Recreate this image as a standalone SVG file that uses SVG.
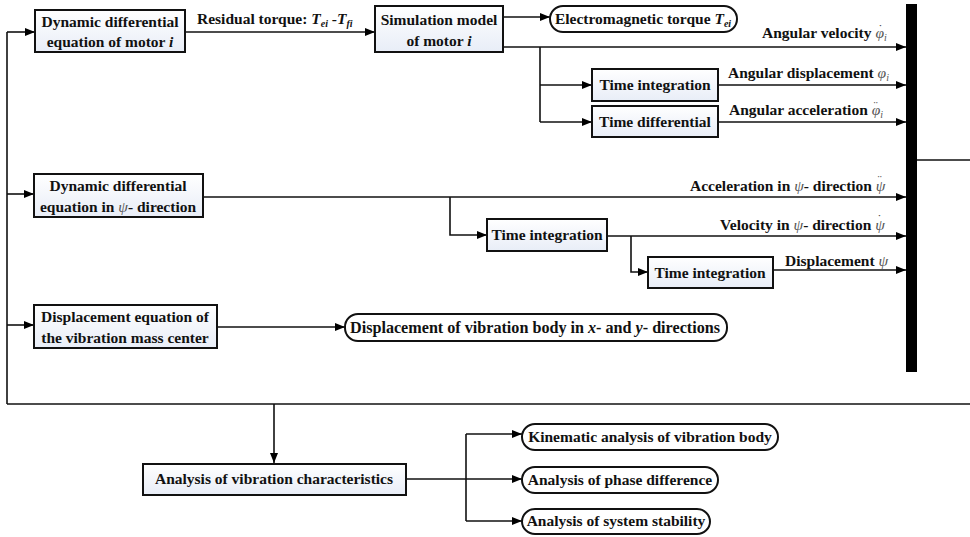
<svg xmlns="http://www.w3.org/2000/svg" width="970" height="537" viewBox="0 0 970 537" font-family="'Liberation Serif', 'DejaVu Serif', serif">
<defs>
<linearGradient id="bg" x1="0" y1="0" x2="0" y2="1"><stop offset="0" stop-color="#ffffff"/><stop offset="1" stop-color="#e8edf7"/></linearGradient>
<marker id="ah" markerWidth="10" markerHeight="8" refX="10" refY="4" orient="auto" markerUnits="userSpaceOnUse"><path d="M0,0 L10,4 L0,8 Z" fill="#000"/></marker>
</defs>
<style>
text{font-family:'Liberation Serif','DejaVu Serif',serif;font-weight:bold;font-size:15.5px;fill:#111}
.box{fill:url(#bg);stroke:#111;stroke-width:2}
.oval{fill:#fff;stroke:#111;stroke-width:2}
.c path{fill:none;stroke:#111;stroke-width:1.6}
.m{font-style:italic;font-weight:normal;fill:#555}
.i{font-style:italic}
.s{font-size:10px}
.d{font-weight:normal;fill:#555;font-size:13px}
</style>
<rect width="970" height="537" fill="#fff"/>
<g class="c">
<path d="M7,404 V32"/>
<path d="M7,32 H35" marker-end="url(#ah)"/>
<path d="M7,194 H34" marker-end="url(#ah)"/>
<path d="M7,325 H34" marker-end="url(#ah)"/>
<path d="M7,404 H970"/>
<path d="M917,160 H970"/>
<path d="M185,32 H375" marker-end="url(#ah)"/>
<path d="M503,17 H550" marker-end="url(#ah)"/>
<path d="M503,47 H906" marker-end="url(#ah)"/>
<path d="M540,47 V122"/>
<path d="M540,85 H592" marker-end="url(#ah)"/>
<path d="M540,122 H592" marker-end="url(#ah)"/>
<path d="M718,85 H906" marker-end="url(#ah)"/>
<path d="M718,122 H906" marker-end="url(#ah)"/>
<path d="M203,197 H906" marker-end="url(#ah)"/>
<path d="M450,197 V235 H487" marker-end="url(#ah)"/>
<path d="M607,236 H906" marker-end="url(#ah)"/>
<path d="M631,236 V272 H648" marker-end="url(#ah)"/>
<path d="M773,270 H906" marker-end="url(#ah)"/>
<path d="M217,327 H345" marker-end="url(#ah)"/>
<path d="M274,404 V463" marker-end="url(#ah)"/>
<path d="M406,479 H522" marker-end="url(#ah)"/>
<path d="M466,434 V521"/>
<path d="M466,434 H522" marker-end="url(#ah)"/>
<path d="M466,521 H522" marker-end="url(#ah)"/>
</g>
<g id="bar"><rect x="906" y="4" width="11" height="368" fill="#000"/></g>
<g id="labels">
<text x="197" y="24">Residual torque: <tspan class="i">T</tspan><tspan class="i s" dy="3">ei</tspan><tspan dy="-3"> -</tspan><tspan class="i">T</tspan><tspan class="i s" dy="3">fi</tspan></text>
<text x="762" y="38">Angular velocity  <tspan class="m">φ</tspan><tspan class="m s" dy="3">i</tspan><tspan class="d" dx="-8.5" dy="-8">˙</tspan></text>
<text x="728" y="78">Angular displacement <tspan class="m">φ</tspan><tspan class="m s" dy="3">i</tspan></text>
<text x="729" y="115">Angular acceleration  <tspan class="m">φ</tspan><tspan class="m s" dy="3">i</tspan><tspan class="d" dx="-9.5" dy="-8">¨</tspan></text>
<text x="690" y="191">Acceleration in <tspan class="m">ψ</tspan>- direction <tspan class="m">ψ</tspan><tspan class="d" dx="-8" dy="-7">¨</tspan></text>
<text x="720" y="230">Velocity in <tspan class="m">ψ</tspan>- direction <tspan class="m">ψ</tspan><tspan class="d" dx="-7.5" dy="-7">˙</tspan></text>
<text x="785" y="266">Displacement <tspan class="m">ψ</tspan></text>
</g>
<g id="n1"><rect class="box" x="35" y="10" width="150" height="42"/><text x="110" y="27" text-anchor="middle">Dynamic differential</text><text x="110" y="47" text-anchor="middle">equation of motor <tspan class="i">i</tspan></text></g>
<g id="n2"><rect class="box" x="375" y="6" width="128" height="46"/><text x="439" y="25" text-anchor="middle">Simulation model</text><text x="439" y="46" text-anchor="middle">of motor <tspan class="i">i</tspan></text></g>
<g id="n3"><rect class="oval" x="550" y="6" width="187" height="26" rx="13"/><text x="643" y="24" text-anchor="middle">Electromagnetic torque <tspan class="i">T</tspan><tspan class="i s" dy="3">ei</tspan></text></g>
<g id="n4"><rect class="box" x="592" y="69" width="126" height="32"/><text x="655" y="90" text-anchor="middle">Time integration</text></g>
<g id="n5"><rect class="box" x="592" y="106" width="126" height="31"/><text x="655" y="127" text-anchor="middle">Time differential</text></g>
<g id="n6"><rect class="box" x="34" y="174" width="169" height="43"/><text x="118" y="191" text-anchor="middle">Dynamic differential</text><text x="118" y="212" text-anchor="middle">equation in  <tspan class="m">ψ</tspan>- direction</text></g>
<g id="n7"><rect class="box" x="487" y="219" width="120" height="32"/><text x="547" y="240" text-anchor="middle">Time integration</text></g>
<g id="n8"><rect class="box" x="648" y="257" width="125" height="31"/><text x="710" y="278" text-anchor="middle">Time integration</text></g>
<g id="n9"><rect class="box" x="34" y="305" width="183" height="43"/><text x="125" y="322" text-anchor="middle">Displacement equation of</text><text x="125" y="343" text-anchor="middle">the vibration mass center</text></g>
<g id="n10"><rect class="oval" x="345" y="314" width="382" height="27" rx="13"/><text x="350" y="333" textLength="370" lengthAdjust="spacingAndGlyphs" style="font-size:16px">Displacement of vibration body in <tspan class="i">x</tspan>- and <tspan class="i">y</tspan>- directions</text></g>
<g id="n11"><rect class="box" x="143" y="464" width="263" height="31"/><text x="274" y="484" text-anchor="middle">Analysis of vibration characteristics</text></g>
<g id="n12"><rect class="oval" x="522" y="424" width="256" height="26" rx="13"/><text x="650" y="442" text-anchor="middle">Kinematic analysis of vibration body</text></g>
<g id="n13"><rect class="oval" x="522" y="467" width="196" height="26" rx="13"/><text x="620" y="485" text-anchor="middle">Analysis of phase difference</text></g>
<g id="n14"><rect class="oval" x="522" y="509" width="188" height="25" rx="13"/><text x="616" y="526" text-anchor="middle">Analysis of system stability</text></g>
</svg>
